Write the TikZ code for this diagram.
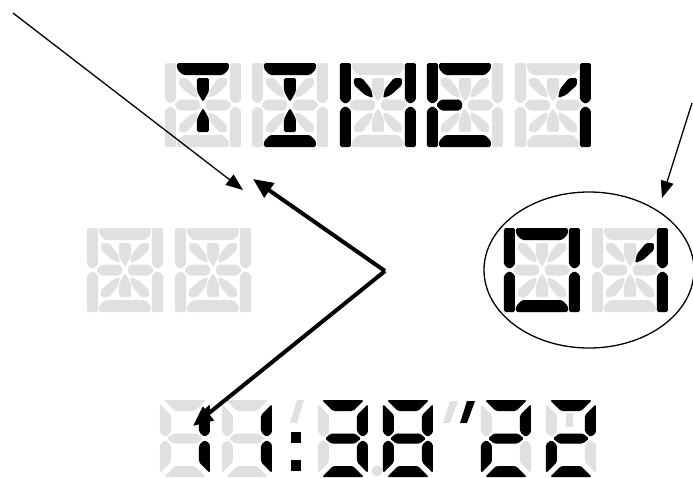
\documentclass[tikz,border=0pt]{standalone}
\usepackage{tikz}
\usetikzlibrary{arrows.meta}
\definecolor{lcdgray}{HTML}{E0E0E0}

\newcommand\sega[1]{\fill[#1] (12,0)--(64,0)--(64,6)--(58,12)--(18,12)--(12,6)--cycle;}
\newcommand\segd[1]{\fill[#1] (12,84)--(64,84)--(64,78)--(58,72)--(18,72)--(12,78)--cycle;}
\newcommand\segf[1]{\fill[#1] (0,0)--(11,0)--(11,37)--(5.5,41)--(0,37)--cycle;}
\newcommand\sege[1]{\fill[#1] (0,84)--(11,84)--(11,47)--(5.5,43)--(0,47)--cycle;}
\newcommand\segb[1]{\fill[#1] (76,0)--(65,0)--(65,37)--(70.5,41)--(76,37)--cycle;}
\newcommand\segc[1]{\fill[#1] (76,84)--(65,84)--(65,47)--(70.5,43)--(76,47)--cycle;}
\newcommand\segg[1]{\fill[#1] (9,42)--(14,36.5)--(33,36.5)--(36,42)--(33,47.5)--(14,47.5)--cycle;}
\newcommand\segk[1]{\fill[#1] (67,42)--(62,36.5)--(43,36.5)--(40,42)--(43,47.5)--(62,47.5)--cycle;}
\newcommand\segi[1]{\fill[#1] (32,15)--(44,15)--(44,28)--(42,32)--(38,39)--(34,32)--(32,28)--cycle;}
\newcommand\segm[1]{\fill[#1] (32,69)--(44,69)--(44,56)--(42,52)--(38,45)--(34,52)--(32,56)--cycle;}
\newcommand\segh[1]{\fill[#1] (14,15)--(22,15)--(31,26)--(33,35)--(25,32)--(14,22)--cycle;}
\newcommand\segj[1]{\fill[#1] (62,15)--(54,15)--(45,26)--(43,35)--(51,32)--(62,22)--cycle;}
\newcommand\segn[1]{\fill[#1] (14,69)--(22,69)--(31,58)--(33,49)--(25,52)--(14,62)--cycle;}
\newcommand\segl[1]{\fill[#1] (62,69)--(54,69)--(45,58)--(43,49)--(51,52)--(62,62)--cycle;}
\newcommand\segnone[1]{}

\newcommand\lcda[1]{\fill[#1] (4,0)--(46,0)--(35,11)--(15,11)--cycle;}
\newcommand\lcdb[1]{\fill[#1] (50,4)--(39,15)--(39,32)--(44.5,37)--(50,33)--cycle;}
\newcommand\lcdc[1]{\fill[#1] (50,73)--(39,62)--(39,45)--(44.5,40)--(50,44)--cycle;}
\newcommand\lcdd[1]{\fill[#1] (4,77)--(46,77)--(35,66)--(15,66)--cycle;}
\newcommand\lcde[1]{\fill[#1] (0,73)--(11,62)--(11,45)--(5.5,40)--(0,44)--cycle;}
\newcommand\lcdf[1]{\fill[#1] (0,4)--(11,15)--(11,32)--(5.5,37)--(0,33)--cycle;}
\newcommand\lcdg[1]{\fill[#1] (7,38.5)--(13,33.5)--(37,33.5)--(43,38.5)--(37,43.5)--(13,43.5)--cycle;}

\newcommand\alnum[3]{%
  \begin{scope}[shift={(#1,#2)}]
    \foreach \s in {a,...,n} {\csname seg\s\endcsname{segoff}}
    \foreach \s in {#3} {\csname seg\s\endcsname{segon}}
  \end{scope}}
\newcommand\lcdigit[3]{%
  \begin{scope}[shift={(#1,#2)}]
    \foreach \s in {a,...,g} {\csname lcd\s\endcsname{segoff}}
    \foreach \s in {#3} {\csname lcd\s\endcsname{segon}}
  \end{scope}}

\begin{document}
\begin{tikzpicture}[x=0.5pt, y=-0.5pt,
    segoff/.style={fill=lcdgray, rounded corners=0.8pt},
    segon/.style={fill=black, rounded corners=0.8pt},
    thinarrow/.style={line width=0.65pt, -{Triangle[length=8.5pt,width=6.5pt]}},
    boldarrow/.style={line width=2pt, -{Triangle[length=10pt,width=8.5pt]}}]
  \useasboundingbox (0,0) rectangle (693,478);

  \alnum{165}{63}{a,i,m}
  \alnum{252}{63}{a,i,m,d}
  \alnum{340}{63}{f,e,b,c,h,j}
  \alnum{427}{63}{a,f,e,d,g}
  \alnum{515}{63}{b,c,j}

  \alnum{87}{228}{none}
  \alnum{175}{228}{none}
  \alnum{504}{228}{a,b,c,d,e,f}
  \alnum{592}{228}{b,c,j}

  \lcdigit{160}{400}{b,c}
  \lcdigit{222}{400}{b,c}
  \lcdigit{318}{400}{a,b,c,d,g}
  \lcdigit{383}{400}{a,b,c,d,e,f,g}
  \lcdigit{481}{400}{a,b,g,e,d}
  \lcdigit{546}{400}{a,b,g,e,d}

  \fill[lcdgray] (297,400)--(304,400)--(297,423)--(290,423)--cycle;
  \fill (291,432) rectangle (301,443);
  \fill (291,460) rectangle (301,471);
  \fill[lcdgray] (377,471) circle [radius=5.5];
  \fill[lcdgray] (450,401)--(458,401)--(450,423)--(443,423)--cycle;
  \fill (467,401)--(475,401)--(467,423)--(460,423)--cycle;
  \fill[lcdgray] (566,413) rectangle (573,427);

  \draw[line width=0.65pt] (589,270) ellipse [x radius=105, y radius=78];

  \coordinate (corner) at (13,13);
  \coordinate (target) at (243,190);
  \coordinate (fork) at (385,271);
  \coordinate (upper) at (253,179);
  \coordinate (lower) at (193,426);
  \coordinate (edge) at (692,103);
  \coordinate (circled) at (662,198);

  \draw[thinarrow] (corner) -- (target);
  \draw[boldarrow] (fork) -- (upper);
  \draw[boldarrow] (fork) -- (lower);
  \draw[thinarrow] (edge) -- (circled);
\end{tikzpicture}
\end{document}
